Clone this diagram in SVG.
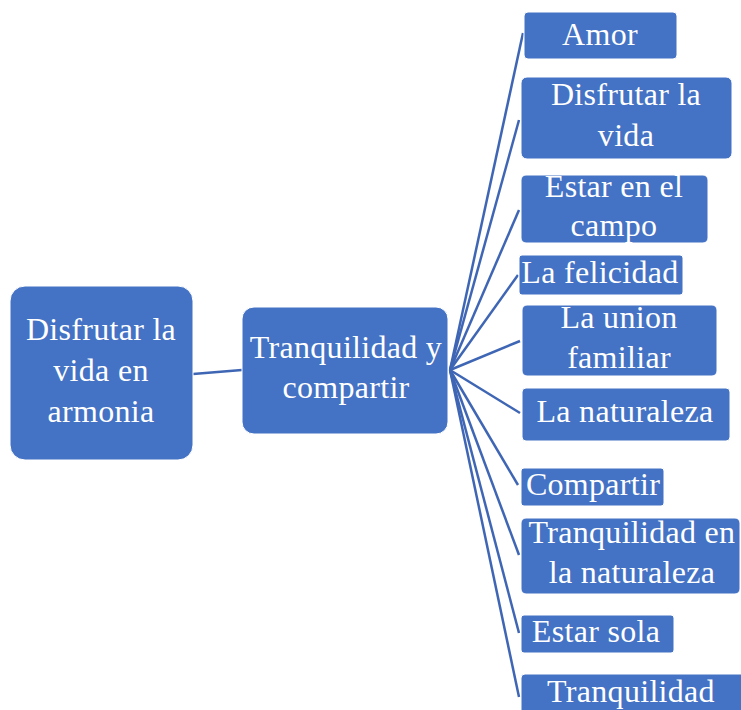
<svg xmlns="http://www.w3.org/2000/svg" width="741" height="710" viewBox="0 0 741 710">
<style>
.box{fill:#4472C4;stroke:#ffffff;stroke-width:1}
.t{font-family:"Liberation Serif","Times New Roman",serif;font-size:32px;letter-spacing:0.3px;fill:#ffffff;text-anchor:middle}
.c line{stroke:#3F66B4;stroke-width:2.5;fill:none}
</style>
<rect width="741" height="710" fill="#ffffff"/>
<g class="c" id="connectors">
<line x1="193" y1="374" x2="242" y2="370"/>
<line x1="450" y1="370" x2="523" y2="33"/>
<line x1="450" y1="370" x2="519" y2="120"/>
<line x1="450" y1="370" x2="519" y2="210"/>
<line x1="450" y1="370" x2="518" y2="275"/>
<line x1="450" y1="370" x2="520" y2="341"/>
<line x1="450" y1="370" x2="520" y2="413"/>
<line x1="450" y1="370" x2="518" y2="485"/>
<line x1="450" y1="370" x2="519" y2="555"/>
<line x1="450" y1="370" x2="519" y2="633"/>
<line x1="450" y1="370" x2="519" y2="697"/>
</g>
<g id="root"><rect class="box" x="10" y="286" width="183" height="174" rx="15"/>
<text class="t" x="101" y="340">Disfrutar la</text><text class="t" x="101" y="381">vida en</text><text class="t" x="101" y="422">armonia</text></g>
<g id="hub"><rect class="box" x="242" y="307" width="206" height="127" rx="12"/>
<text class="t" x="346" y="358">Tranquilidad y</text><text class="t" x="346" y="398">compartir</text></g>
<g id="n1"><rect class="box" x="524" y="12" width="153" height="47" rx="4"/><text class="t" x="600" y="45">Amor</text></g>
<g id="n2"><rect class="box" x="521" y="77" width="211" height="82" rx="6"/><text class="t" x="626" y="105">Disfrutar la</text><text class="t" x="626" y="146">vida</text></g>
<g id="n3"><rect class="box" x="521" y="175" width="187" height="68" rx="5"/><text class="t" x="614" y="197">Estar en el</text><text class="t" x="614" y="236">campo</text></g>
<g id="n4"><rect class="box" x="519" y="255" width="164" height="40" rx="3"/><text class="t" x="600" y="283">La felicidad</text></g>
<g id="n5"><rect class="box" x="522" y="305" width="195" height="71" rx="5"/><text class="t" x="619" y="328">La union</text><text class="t" x="619" y="368">familiar</text></g>
<g id="n6"><rect class="box" x="522" y="388" width="208" height="53" rx="4"/><text class="t" x="625" y="422">La naturaleza</text></g>
<g id="n7"><rect class="box" x="521" y="468" width="143" height="38" rx="3"/><text class="t" x="593" y="495">Compartir</text></g>
<g id="n8"><rect class="box" x="521" y="518" width="219" height="76" rx="5"/><text class="t" x="632" y="543">Tranquilidad en</text><text class="t" x="632" y="583">la naturaleza</text></g>
<g id="n9"><rect class="box" x="521" y="615" width="153" height="38" rx="3"/><text class="t" x="596" y="642">Estar sola</text></g>
<g id="n10"><rect class="box" x="521" y="674" width="225" height="50" rx="4"/><text class="t" x="631" y="702">Tranquilidad</text></g>
</svg>
